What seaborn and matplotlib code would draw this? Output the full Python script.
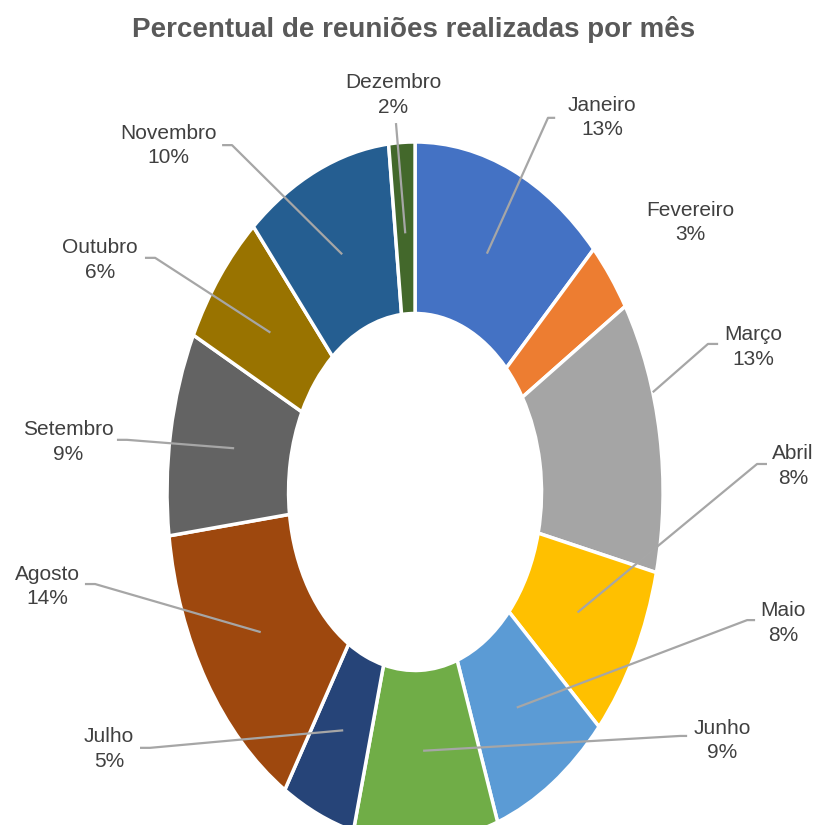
import numpy as np
import matplotlib
matplotlib.use('Agg')
import matplotlib.pyplot as plt
import seaborn as sns

# Data (share of meetings per month, in %)
months = ['Janeiro', 'Fevereiro', 'Março', 'Abril', 'Maio', 'Junho',
          'Julho', 'Agosto', 'Setembro', 'Outubro', 'Novembro', 'Dezembro']
shares = [12.8, 3.3, 12.6, 8.0, 7.9, 9.4, 4.8, 14.2, 9.4, 6.3, 9.6, 1.7]
colors = ['#4472C4', '#ED7D31', '#A5A5A5', '#FFC000', '#5B9BD5', '#70AD47',
          '#264478', '#9E480E', '#636363', '#997300', '#255E91', '#43682B']

# Label layout (axes data units, the donut spans -1..1 on both axes)
label_xy = [(0.754, 1.069), (1.109, 0.771), (1.363, 0.414), (1.524, 0.074),
            (1.484, -0.374), (1.238, -0.709), (-1.234, -0.734), (-1.484, -0.269),
            (-1.399, 0.143), (-1.270, 0.663), (-0.996, 0.991), (-0.089, 1.134)]
# leader line end next to the label and the small horizontal elbow
leader_end = [(0.565, 1.069), None, (1.222, 0.423), (1.419, 0.080),
              (1.371, -0.366), (1.097, -0.697), (-1.109, -0.731), (-1.331, -0.263),
              (-1.202, 0.149), (-1.089, 0.669), (-0.778, 0.991), (-0.077, 1.054)]
elbow_dx = [-0.029, 0, -0.041, -0.040, -0.032, -0.028, 0.040, 0.041,
            0.041, 0.041, 0.040, 0.0]
anchor_r = [0.74, 0.74, 1.0, 0.74, 0.74, 0.74, 0.74, 0.74, 0.74, 0.74, 0.74, 0.74]
anchor_shift = [0, 0, -2.0, 0, 0, 0, 0, 0, 0, 0, 0, 0]

sns.set_theme(style='white')
plt.rcParams['font.family'] = ['Liberation Sans Narrow', 'Liberation Sans', 'DejaVu Sans']

fig = plt.figure(figsize=(8.18, 8.25), dpi=100)
ax = fig.add_axes([0.2042, -0.0206, 0.6064, 0.8485])

palette = sns.color_palette(colors)
ax.pie(shares, colors=palette, startangle=90, counterclock=False, radius=1,
       wedgeprops=dict(width=0.49, edgecolor='white', linewidth=2.5))
ax.set_aspect('auto')
ax.set_xlim(-1, 1)
ax.set_ylim(-1, 1)
ax.axis('off')

total = sum(shares)
cum = np.cumsum(shares) - np.array(shares) / 2
for i, name in enumerate(months):
    pct = round(shares[i] / total * 100)
    lx, ly = label_xy[i]
    ax.text(lx, ly, f'{name}\n{pct}%', ha='center', va='center', fontsize=15,
            color='#404040', linespacing=1.35, clip_on=False)
    if leader_end[i] is None:
        continue
    theta = np.deg2rad(90 - 360 * (cum[i] + anchor_shift[i]) / total)
    axp, ayp = anchor_r[i] * np.cos(theta), anchor_r[i] * np.sin(theta)
    ex, ey = leader_end[i]
    bx = ex + elbow_dx[i]
    ax.plot([axp, bx, ex], [ayp, ey, ey], color='#A6A6A6', lw=1.6,
            clip_on=False, solid_capstyle='butt')

fig.text(0.506, 0.964, 'Percentual de reuniões realizadas por mês',
         ha='center', va='center', fontsize=20, fontweight='bold', color='#595959')

plt.savefig('out.png', dpi=100)
